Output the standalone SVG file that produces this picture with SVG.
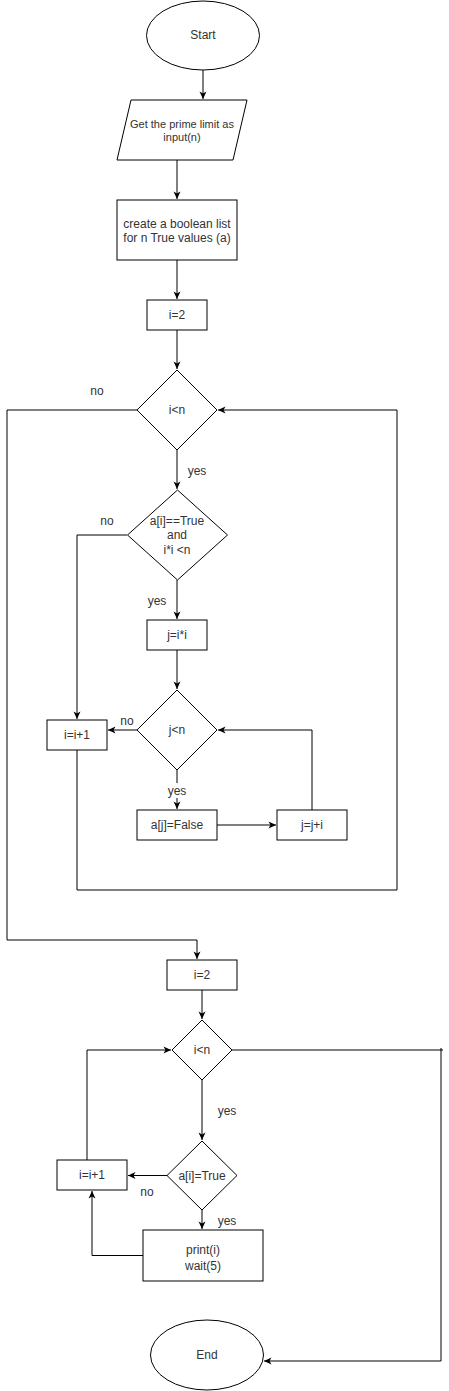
<svg xmlns="http://www.w3.org/2000/svg" width="449" height="1391" viewBox="0 0 449 1391">
<style>
.s{fill:#fff;stroke:#000;stroke-width:1}
.c{fill:none;stroke:#000;stroke-width:1}
text{font-family:"Liberation Sans",Arial,sans-serif;font-size:12px;fill:#333;text-anchor:middle;dominant-baseline:central}
.sm{font-size:11px}
.lb{font-size:12px}
</style>
<defs>
<marker id="a" markerUnits="userSpaceOnUse" markerWidth="10" markerHeight="10" refX="8" refY="4" orient="auto">
<path d="M0.5,0.5 L8,4 L0.5,7.5 L2.5,4 Z" fill="#000"/>
</marker>
</defs>
<rect width="449" height="1391" fill="#fff"/>
<g id="connectors">
<path class="c" d="M203,70 V99" marker-end="url(#a)"/>
<path class="c" d="M177,160 V199" marker-end="url(#a)"/>
<path class="c" d="M177,260 V299" marker-end="url(#a)"/>
<path class="c" d="M177,330 V369" marker-end="url(#a)"/>
<path class="c" d="M177,450 V489" marker-end="url(#a)"/>
<path class="c" d="M137,410 H7 V940 H197 V959" marker-end="url(#a)"/>
<path class="c" d="M127,535 H77 V719" marker-end="url(#a)"/>
<path class="c" d="M177,580 V619" marker-end="url(#a)"/>
<path class="c" d="M177,650 V689" marker-end="url(#a)"/>
<path class="c" d="M137,730 H108" marker-end="url(#a)"/>
<path class="c" d="M177,770 V809" marker-end="url(#a)"/>
<path class="c" d="M217,825 H276" marker-end="url(#a)"/>
<path class="c" d="M312,810 V730 H218" marker-end="url(#a)"/>
<path class="c" d="M77,750 V890 H397 V410 H218" marker-end="url(#a)"/>
<path class="c" d="M202,990 V1019" marker-end="url(#a)"/>
<path class="c" d="M232,1050 H443"/>
<path class="c" d="M441,1048 V1361 H264" marker-end="url(#a)"/>
<path class="c" d="M202,1080 V1140" marker-end="url(#a)"/>
<path class="c" d="M167,1175.5 H128" marker-end="url(#a)"/>
<path class="c" d="M87,1160 V1050 H171" marker-end="url(#a)"/>
<path class="c" d="M202,1210 V1229" marker-end="url(#a)"/>
<path class="c" d="M143,1255.5 H92 V1191" marker-end="url(#a)"/>
</g>
<g id="labels">
<text class="lb" x="97" y="391">no</text>
<text class="lb" x="197" y="471">yes</text>
<text class="lb" x="107" y="521">no</text>
<text class="lb" x="157" y="601">yes</text>
<text class="lb" x="127" y="721">no</text>
<rect x="166" y="783" width="22" height="15" fill="#fff"/>
<text class="lb" x="177" y="791">yes</text>
<text class="lb" x="227" y="1111">yes</text>
<text class="lb" x="147" y="1192">no</text>
<text class="lb" x="227" y="1221">yes</text>
</g>
<g id="start"><ellipse class="s" cx="203" cy="35.5" rx="56.5" ry="34.5"/><text x="203" y="35">Start</text></g>
<g id="input"><path class="s" d="M131,100 H247 L233,160 H117 Z"/><text class="sm" x="182" y="124">Get the prime limit as</text><text class="sm" x="182" y="137">input(n)</text></g>
<g id="create"><rect class="s" x="117" y="200" width="120" height="60"/><text x="177" y="224">create a boolean list</text><text x="177" y="238">for n True values (a)</text></g>
<g id="init1"><rect class="s" x="147" y="300" width="60" height="30"/><text x="177" y="315">i=2</text></g>
<g id="cond1"><path class="s" d="M177,370 L217,410 L177,450 L137,410 Z"/><text x="177" y="410">i&lt;n</text></g>
<g id="cond2"><path class="s" d="M177.5,490 L227.5,535 L177.5,580 L127.5,535 Z"/><text x="177" y="521">a[i]==True</text><text x="177" y="535">and</text><text x="177" y="550">i*i &lt;n</text></g>
<g id="jinit"><rect class="s" x="147" y="620" width="60" height="30"/><text x="177" y="635">j=i*i</text></g>
<g id="cond3"><path class="s" d="M177,690 L217,730 L177,770 L137,730 Z"/><text x="177" y="730">j&lt;n</text></g>
<g id="inc1"><rect class="s" x="47" y="720" width="60" height="30"/><text x="77" y="735">i=i+1</text></g>
<g id="mark"><rect class="s" x="137" y="810" width="80" height="30"/><text x="177" y="825">a[j]=False</text></g>
<g id="jinc"><rect class="s" x="277" y="810" width="70" height="30"/><text x="312" y="825">j=j+i</text></g>
<g id="init2"><rect class="s" x="167" y="960" width="70" height="30"/><text x="202" y="975">i=2</text></g>
<g id="cond4"><path class="s" d="M202,1020 L232,1050 L202,1080 L172,1050 Z"/><text x="202" y="1050">i&lt;n</text></g>
<g id="cond5"><path class="s" d="M202,1141 L237,1175.5 L202,1210 L167,1175.5 Z"/><text x="202" y="1176">a[i]=True</text></g>
<g id="inc2"><rect class="s" x="57" y="1160" width="70" height="30"/><text x="92" y="1175">i=i+1</text></g>
<g id="print"><rect class="s" x="143" y="1230" width="120" height="51"/><text x="203" y="1250">print(i)</text><text x="203" y="1266">wait(5)</text></g>
<g id="end"><ellipse class="s" cx="207" cy="1355" rx="56.5" ry="35"/><text x="207" y="1355">End</text></g>
</svg>
